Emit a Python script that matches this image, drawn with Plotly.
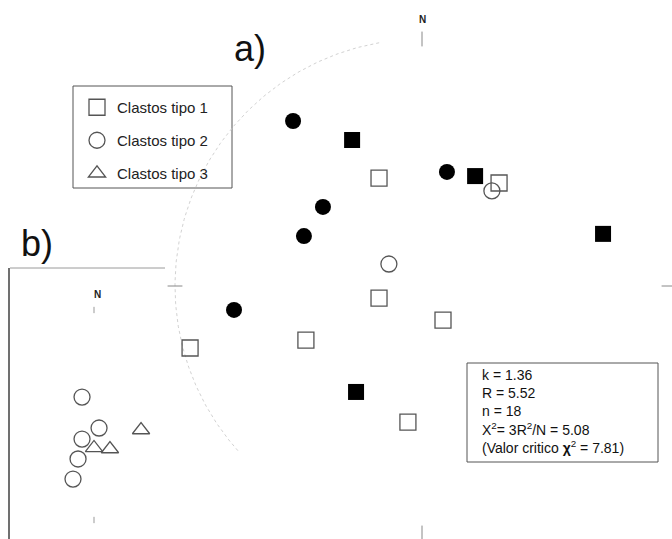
import numpy as np
import plotly.graph_objects as go

# ---- Stereonet a): positions in units of the net radius (E = +x, N = +y)
tipo1_a_x = [-0.174, 0.312, -0.174, 0.085, -0.939, -0.470, -0.057]
tipo1_a_y = [0.437, 0.417, -0.049, -0.138, -0.251, -0.219, -0.551]
tipo2_a_x = [0.283, -0.134]
tipo2_a_y = [0.385, 0.089]
lleno_circ_x = [-0.522, -0.401, -0.478, 0.101, -0.761]
lleno_circ_y = [0.668, 0.320, 0.202, 0.462, -0.097]
lleno_cuad_x = [-0.283, 0.215, 0.733, -0.267]
lleno_cuad_y = [0.591, 0.445, 0.211, -0.429]

# ---- Stereonet b)
tipo2_b_x = [-0.114, 0.048, -0.114, -0.152, -0.200]
tipo2_b_y = [0.171, -0.124, -0.229, -0.419, -0.610]
tipo3_b_x = [0.448, 0.000, 0.152]
tipo3_b_y = [-0.143, -0.314, -0.324]

leyenda = ["Clastos tipo 1", "Clastos tipo 2", "Clastos tipo 3"]
estadisticos = [
    "k = 1.36",
    "R = 5.52",
    "n = 18",
    "X<sup>2</sup>= 3R<sup>2</sup>/N = 5.08",
    "(Valor critico <b>χ</b><sup>2</sup> = 7.81)",
]

W, H = 672, 539
FONT = "Liberation Sans, Arial, sans-serif"
GRIS = "#555555"

fig = go.Figure()

# faint primitive circle of net a) (only the western part is drawn)
ang = np.radians(np.linspace(100, 222, 200))
fig.add_trace(go.Scatter(x=np.cos(ang), y=np.sin(ang), mode="lines",
                         line=dict(color="#d2d2d2", width=1, dash="dot"),
                         showlegend=False, hoverinfo="skip"))
# cardinal ticks of net a)
for (x0, y0, x1, y1) in [(0, 0.97, 0, 1.03), (0, -0.97, 0, -1.03),
                         (-1.03, 0, -0.97, 0), (0.97, 0, 1.03, 0)]:
    fig.add_trace(go.Scatter(x=[x0, x1], y=[y0, y1], mode="lines",
                             line=dict(color="#888888", width=1),
                             showlegend=False, hoverinfo="skip"))

open_line = dict(color=GRIS, width=1.3)

fig.add_trace(go.Scatter(x=tipo1_a_x, y=tipo1_a_y, mode="markers", name=leyenda[0],
                         legendgroup="t1",
                         marker=dict(symbol="square-open", size=16, line=open_line, color=GRIS)))
fig.add_trace(go.Scatter(x=tipo2_a_x, y=tipo2_a_y, mode="markers", name=leyenda[1],
                         legendgroup="t2",
                         marker=dict(symbol="circle-open", size=16, line=open_line, color=GRIS)))
fig.add_trace(go.Scatter(x=lleno_circ_x, y=lleno_circ_y, mode="markers", showlegend=False,
                         marker=dict(symbol="circle", size=16, color="black")))
fig.add_trace(go.Scatter(x=lleno_cuad_x, y=lleno_cuad_y, mode="markers", showlegend=False,
                         marker=dict(symbol="square", size=16, color="black")))

fig.add_trace(go.Scatter(x=tipo2_b_x, y=tipo2_b_y, mode="markers", name=leyenda[1],
                         legendgroup="t2", showlegend=False, xaxis="x2", yaxis="y2",
                         marker=dict(symbol="circle-open", size=16, line=open_line, color=GRIS)))
fig.add_trace(go.Scatter(x=tipo3_b_x, y=tipo3_b_y, mode="markers", name=leyenda[2],
                         legendgroup="t3", xaxis="x2", yaxis="y2",
                         marker=dict(symbol="triangle-up-open", size=15, line=open_line, color=GRIS)))
# cardinal ticks of net b)
for (x0, y0, x1, y1) in [(0, 0.97, 0, 1.03), (0, -0.97, 0, -1.03)]:
    fig.add_trace(go.Scatter(x=[x0, x1], y=[y0, y1], mode="lines", xaxis="x2", yaxis="y2",
                             line=dict(color="#999999", width=1),
                             showlegend=False, hoverinfo="skip"))

# net a): centre at (422, 286) px, radius 247 px ; net b): centre (94, 415), radius 105 px
ra, ca = 247.0, (422.0, 286.0)
rb, cb = 105.0, (94.0, 415.0)
ax_common = dict(visible=False, showgrid=False, zeroline=False, fixedrange=True)
fig.update_layout(
    width=W, height=H, margin=dict(l=0, r=0, t=0, b=0),
    paper_bgcolor="white", plot_bgcolor="white",
    xaxis=dict(range=[-ca[0] / ra, (W - ca[0]) / ra], domain=[0, 1], **ax_common),
    yaxis=dict(range=[-(H - ca[1]) / ra, ca[1] / ra], domain=[0, 1], **ax_common),
    xaxis2=dict(range=[-cb[0] / rb, (W - cb[0]) / rb], domain=[0, 1], overlaying="x",
                anchor="y2", **ax_common),
    yaxis2=dict(range=[-(H - cb[1]) / rb, cb[1] / rb], domain=[0, 1], overlaying="y",
                anchor="x2", **ax_common),
    showlegend=True,
    legend=dict(x=77 / W, y=1 - 91 / H, xanchor="left", yanchor="top",
                bgcolor="rgba(0,0,0,0)", borderwidth=0,
                font=dict(family=FONT, size=15, color="#222222"),
                traceorder="grouped", tracegroupgap=10.5),
    font=dict(family=FONT, color="#111111"),
)

# legend frame
fig.add_shape(type="rect", xref="paper", yref="paper", layer="below",
              x0=73 / W, x1=232 / W, y0=1 - 188 / H, y1=1 - 86 / H,
              line=dict(color=GRIS, width=1), fillcolor="white")


def px(x, y):
    return x / W, 1 - y / H


# panel labels and north marks
for txt, (x, y) in [("a)", (250, 48)), ("b)", (37, 243))]:
    fig.add_annotation(text=txt, x=px(x, y)[0], y=px(x, y)[1], xref="paper", yref="paper",
                       xanchor="center", yanchor="middle", showarrow=False,
                       font=dict(size=36, family=FONT, color="#111111"))
fig.add_annotation(text="<b>N</b>", x=0, y=1.077, xref="x", yref="y", showarrow=False,
                   yanchor="middle", font=dict(size=10, family=FONT, color="#222222"))
fig.add_annotation(text="<b>N</b>", x=0.03, y=1.08, xref="x2", yref="y2", showarrow=False,
                   yanchor="bottom", font=dict(size=10, family=FONT, color="#222222"))

# frame of panel b)
fig.add_shape(type="line", xref="paper", yref="paper",
              x0=10 / W, x1=165 / W, y0=1 - 268 / H, y1=1 - 268 / H,
              line=dict(color="#9a9a9a", width=1))
fig.add_shape(type="line", xref="paper", yref="paper",
              x0=9 / W, x1=9 / W, y0=0, y1=1 - 268 / H,
              line=dict(color="#707070", width=2))

# statistics box
fig.add_shape(type="rect", xref="paper", yref="paper",
              x0=467 / W, x1=658 / W, y0=1 - 462 / H, y1=1 - 363 / H,
              line=dict(color=GRIS, width=1), fillcolor="white", layer="above")
fig.add_annotation(text="<br>".join(estadisticos), x=480 / W, y=1 - 411 / H,
                   xref="paper", yref="paper", xanchor="left", yanchor="middle",
                   align="left", showarrow=False,
                   font=dict(size=14, family=FONT, color="#111111"))

fig.write_html("out.html")
